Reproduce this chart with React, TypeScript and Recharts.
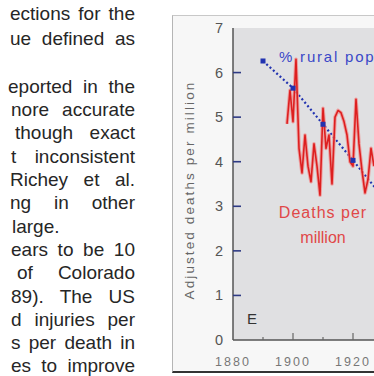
import React from 'react';
import { LineChart, Line, XAxis, YAxis, CartesianGrid } from 'recharts';

// ---- data ----
const deathYears = [1898, 1899, 1900, 1901, 1902, 1903, 1904, 1905, 1906, 1907, 1908, 1909, 1910, 1911, 1912, 1913, 1914, 1915, 1916, 1917, 1918, 1919, 1920, 1921, 1922, 1923, 1924, 1925, 1926, 1927];
const deathsPerMillion = [4.85, 5.6, 4.9, 6.3, 4.3, 3.75, 4.6, 3.9, 3.55, 4.4, 3.9, 3.25, 5.2, 4.3, 4.6, 3.5, 5.0, 5.15, 5.1, 4.9, 4.6, 4.0, 3.9, 5.4, 4.4, 3.8, 3.3, 3.6, 4.3, 3.9];
const censusYears = [1890, 1900, 1910, 1920, 1930];
const ruralPop = [6.26, 5.65, 4.84, 4.03, 3.2];
const yTicks = [0, 1, 2, 3, 4, 5, 6, 7];
const xTicks = [1880, 1890, 1900, 1910, 1920, 1930, 1940];
const xLabelYears = [1880, 1900, 1920, 1940];
const yTitle = 'Adjusted deaths per million';
const ruralLabel = '% rural pop';
const deathsLabel = ['Deaths per', 'million'];
const panelLabel = 'E';

// text column: [text, vertical centre, left, justify]
const textLines: [string, number, number, boolean][] = [
  ['ections for the', 13, 10, true],
  ['ue defined as', 38, 10, true],
  ['eported in the', 86, 8, true],
  ['nore accurate', 109, 11, true],
  ['though exact', 132, 15, true],
  ['t inconsistent', 156, 11, true],
  ['Richey et al.', 179, 10, true],
  ['ng in other', 202, 10, true],
  ['large.', 226, 12, false],
  ['ears to be 10', 249, 11, true],
  ['of Colorado', 272, 17, true],
  ['89). The US', 296, 11, true],
  ['d injuries per', 319, 11, true],
  ['s per death in', 342, 11, true],
  ['es to improve', 365, 11, true],
];

const allYears = Array.from(new Set([...censusYears, ...deathYears])).sort((a, b) => a - b);
const data = allYears.map((year) => {
  const di = deathYears.indexOf(year);
  const ri = censusYears.indexOf(year);
  return {
    year,
    deaths: di >= 0 ? deathsPerMillion[di] : null,
    rural: ri >= 0 ? ruralPop[ri] : null,
  };
});

const FONT = '"Liberation Sans", Arial, Helvetica, sans-serif';

const YTick = (props: any) => {
  const { x, y, payload } = props;
  const v = payload.value;
  return (
    <g>
      {v > 0 && v < 7 && <line x1={x} x2={x + 8} y1={y} y2={y} stroke="#2e3a84" strokeWidth={1.6} />}
      <text x={x - 10} y={y + 5} textAnchor="end" fontSize={14.5} fill="#555" fontFamily={FONT}>
        {v}
      </text>
    </g>
  );
};

const XTick = (props: any) => {
  const { x, y, payload } = props;
  const v = payload.value;
  const major = xLabelYears.includes(v);
  return (
    <g>
      {v > 1880 && <line x1={x} x2={x} y1={y} y2={y - (major ? 7 : 3)} stroke="#666" strokeWidth={1.2} />}
      {major && (
        <text x={x} y={y + 26} textAnchor="middle" fontSize={12.5} letterSpacing={2} fill="#777" fontFamily={FONT}>
          {v}
        </text>
      )}
    </g>
  );
};

const TopTick = (props: any) => {
  const { x, y, payload } = props;
  const v = payload.value;
  const major = xLabelYears.includes(v);
  if (v <= 1880) return <g />;
  return <line x1={x} x2={x} y1={y} y2={y + (major ? 7 : 3)} stroke="#777" strokeWidth={1.2} />;
};

const SquareDot = (p: any) => {
  if (p.value == null || p.cx == null || p.cy == null) return <g key={p.index} />;
  return <rect key={p.index} x={p.cx - 2.5} y={p.cy - 2.5} width={5} height={5} fill="#2233b0" />;
};

export default function App() {
  return (
    <div
      style={{
        position: 'fixed',
        left: 0,
        top: 0,
        width: 374,
        height: 376,
        overflow: 'hidden',
        background: '#ffffff',
        fontFamily: FONT,
      }}
    >
      {textLines.map(([t, yc, left, just], i) => (
        <div
          key={i}
          style={{
            position: 'absolute',
            top: yc - 11.5,
            left,
            width: 135 - left,
            height: 23,
            lineHeight: '23px',
            fontSize: 19,
            color: '#262626',
            textAlign: just ? 'justify' : 'left',
            textAlignLast: just ? 'justify' : 'left',
          }}
        >
          {t}
        </div>
      ))}

      <div
        style={{
          position: 'absolute',
          left: 172,
          top: 15,
          width: 260,
          height: 355,
          background: '#f7f7f7',
          borderLeft: '1px solid #b5b5b5',
          borderTop: '1px solid #c8c8c8',
          borderBottom: '2px solid #333',
        }}
      />

      <div style={{ position: 'absolute', left: 172, top: 15 }}>
        <LineChart width={260} height={357} data={data} margin={{ top: 13, right: 19, bottom: 0, left: 31 }}>
          <CartesianGrid horizontal={false} vertical={false} fill="#e0e0e2" />
          <XAxis
            xAxisId="top"
            orientation="top"
            type="number"
            dataKey="year"
            domain={[1880, 1940]}
            ticks={xTicks}
            height={0}
            tickSize={0}
            tickMargin={0}
            tickLine={false}
            interval={0}
            axisLine={{ stroke: '#8a8a8a', strokeWidth: 1.2 }}
            tick={<TopTick />}
          />
          <XAxis
            type="number"
            dataKey="year"
            domain={[1880, 1940]}
            ticks={xTicks}
            height={32}
            tickSize={0}
            tickMargin={0}
            tickLine={false}
            interval={0}
            axisLine={{ stroke: '#555', strokeWidth: 1.5 }}
            tick={<XTick />}
          />
          <YAxis
            type="number"
            domain={[0, 7]}
            ticks={yTicks}
            width={30}
            tickSize={0}
            tickMargin={0}
            tickLine={false}
            interval={0}
            axisLine={{ stroke: '#555', strokeWidth: 1.5 }}
            tick={<YTick />}
          />
          <Line
            dataKey="rural"
            stroke="#2233b0"
            strokeWidth={2.2}
            strokeDasharray="2 2.5"
            connectNulls
            dot={SquareDot}
            activeDot={false}
            isAnimationActive={false}
          />
          <Line
            dataKey="deaths"
            stroke="#f08a8a"
            strokeWidth={3.6}
            strokeOpacity={0.75}
            strokeLinejoin="round"
            dot={false}
            activeDot={false}
            isAnimationActive={false}
          />
          <Line
            dataKey="deaths"
            stroke="#dd1f1f"
            strokeWidth={1.6}
            strokeLinejoin="round"
            dot={false}
            activeDot={false}
            isAnimationActive={false}
          />
        </LineChart>
      </div>

      <div
        style={{
          position: 'absolute',
          left: 190 - 130,
          top: 190 - 8,
          width: 260,
          height: 16,
          lineHeight: '16px',
          fontSize: 13.5,
          letterSpacing: 2.1,
          color: '#666',
          textAlign: 'center',
          transform: 'rotate(-90deg)',
          whiteSpace: 'nowrap',
        }}
      >
        {yTitle}
      </div>

      <div
        style={{
          position: 'absolute',
          left: 279,
          top: 48,
          fontSize: 15,
          letterSpacing: 1.8,
          lineHeight: '18px',
          color: '#3a48c8',
          whiteSpace: 'nowrap',
        }}
      >
        {ruralLabel}
      </div>

      <div
        style={{
          position: 'absolute',
          left: 263,
          top: 200,
          width: 120,
          fontSize: 16,
          lineHeight: '25px',
          color: '#e04848',
          textAlign: 'center',
          whiteSpace: 'nowrap',
        }}
      >
        <div style={{ letterSpacing: 1 }}>{deathsLabel[0]}</div>
        <div>{deathsLabel[1]}</div>
      </div>

      <div
        style={{
          position: 'absolute',
          left: 247,
          top: 310,
          fontSize: 15,
          lineHeight: '18px',
          color: '#333',
        }}
      >
        {panelLabel}
      </div>
    </div>
  );
}
